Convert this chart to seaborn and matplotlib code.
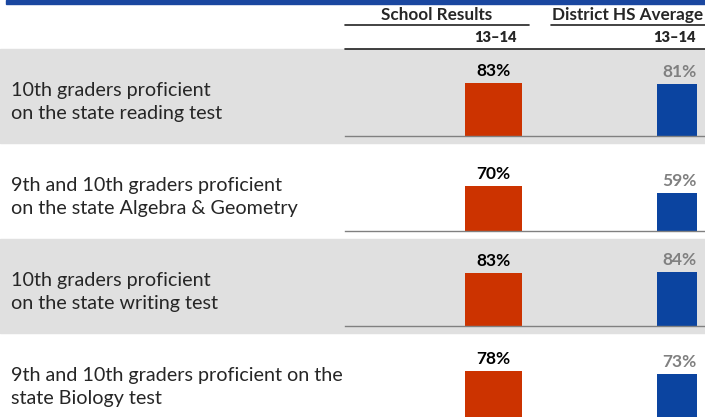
import matplotlib.pyplot as plt
import seaborn as sns
import pandas as pd
from matplotlib.patches import Rectangle
from matplotlib.lines import Line2D

# chart data
measures = [
    "10th graders proficient\non the state reading test",
    "9th and 10th graders proficient\non the state Algebra & Geometry",
    "10th graders proficient\non the state writing test",
    "9th and 10th graders proficient on the\nstate Biology test",
]
school = [83, 70, 83, 78]
district = [81, 59, 84, 73]
groups = ["School Results", "District HS Average"]
period = "13–14"

sns.set_theme(style="white")
plt.rcParams["font.family"] = ["Lato", "DejaVu Sans"]

W, H = 705, 417
fig = plt.figure(figsize=(W / 100, H / 100), dpi=100)


def fx(px):
    return px / W


def fy(py):
    return 1 - py / H


def hline(x0, x1, y, color="#222222", lw=1.2):
    fig.add_artist(Line2D([fx(x0), fx(x1)], [fy(y), fy(y)], transform=fig.transFigure,
                          color=color, lw=lw))


# blue strip at the top
fig.add_artist(Rectangle((fx(6), fy(4)), 1, 4 / H, transform=fig.transFigure,
                         color="#1a47a0", zorder=0))

# column headers
fig.text(fx(437), fy(15), groups[0], ha="center", va="center", fontsize=12.3, fontweight="bold")
fig.text(fx(628), fy(15), groups[1], ha="center", va="center", fontsize=12.3, fontweight="bold")
hline(345, 529, 25)
hline(551, 705, 25)
fig.text(fx(517), fy(37), period, ha="right", va="center", fontsize=10.5, fontweight="heavy")
fig.text(fx(696), fy(37), period, ha="right", va="center", fontsize=10.5, fontweight="heavy")
hline(345, 705, 49)

row_top = 49
row_h = 95
px_per_pct = 0.64

for i, (label, s, d) in enumerate(zip(measures, school, district)):
    top = row_top + i * row_h
    if i % 2 == 0:
        fig.add_artist(Rectangle((0, fy(top + 94)), 1, 94 / H, transform=fig.transFigure,
                                 color="#e0e0e0", zorder=0))
    fig.text(fx(11), fy(top + 53), label, ha="left", va="center", fontsize=14.2,
             linespacing=1.42)

    base = top + 87
    ax = fig.add_axes([fx(345), fy(base), fx(360), 100 * px_per_pct / H])
    df = pd.DataFrame({"group": groups, "value": [s, d]})
    sns.barplot(data=df[df.group == groups[0]], x="group", y="value", order=groups,
                color="#cc3300", width=0.311, saturation=1, linewidth=0, ax=ax)
    sns.barplot(data=df[df.group == groups[1]], x="group", y="value", order=groups,
                color="#0b44a0", width=0.218, saturation=1, linewidth=0, ax=ax)
    ax.set_xlim(-0.809, 1.153)
    ax.set_ylim(0, 100)
    ax.patch.set_visible(False)
    ax.set_xticks([])
    ax.set_yticks([])
    ax.set_xlabel("")
    ax.set_ylabel("")
    for side in ["top", "left", "right"]:
        ax.spines[side].set_visible(False)
    ax.spines["bottom"].set_color("#808080")
    ax.spines["bottom"].set_linewidth(1)

    ax.annotate(f"{s}%", (0, s), xytext=(0, 3), textcoords="offset points",
                ha="center", va="bottom", fontsize=12.5, fontweight="bold", color="black")
    ax.annotate(f"{d}%", (1 + 0.109, d), xytext=(0, 3), textcoords="offset points",
                ha="right", va="bottom", fontsize=12.5, fontweight="bold", color="#808080")

fig.savefig("out.png", dpi=100)
